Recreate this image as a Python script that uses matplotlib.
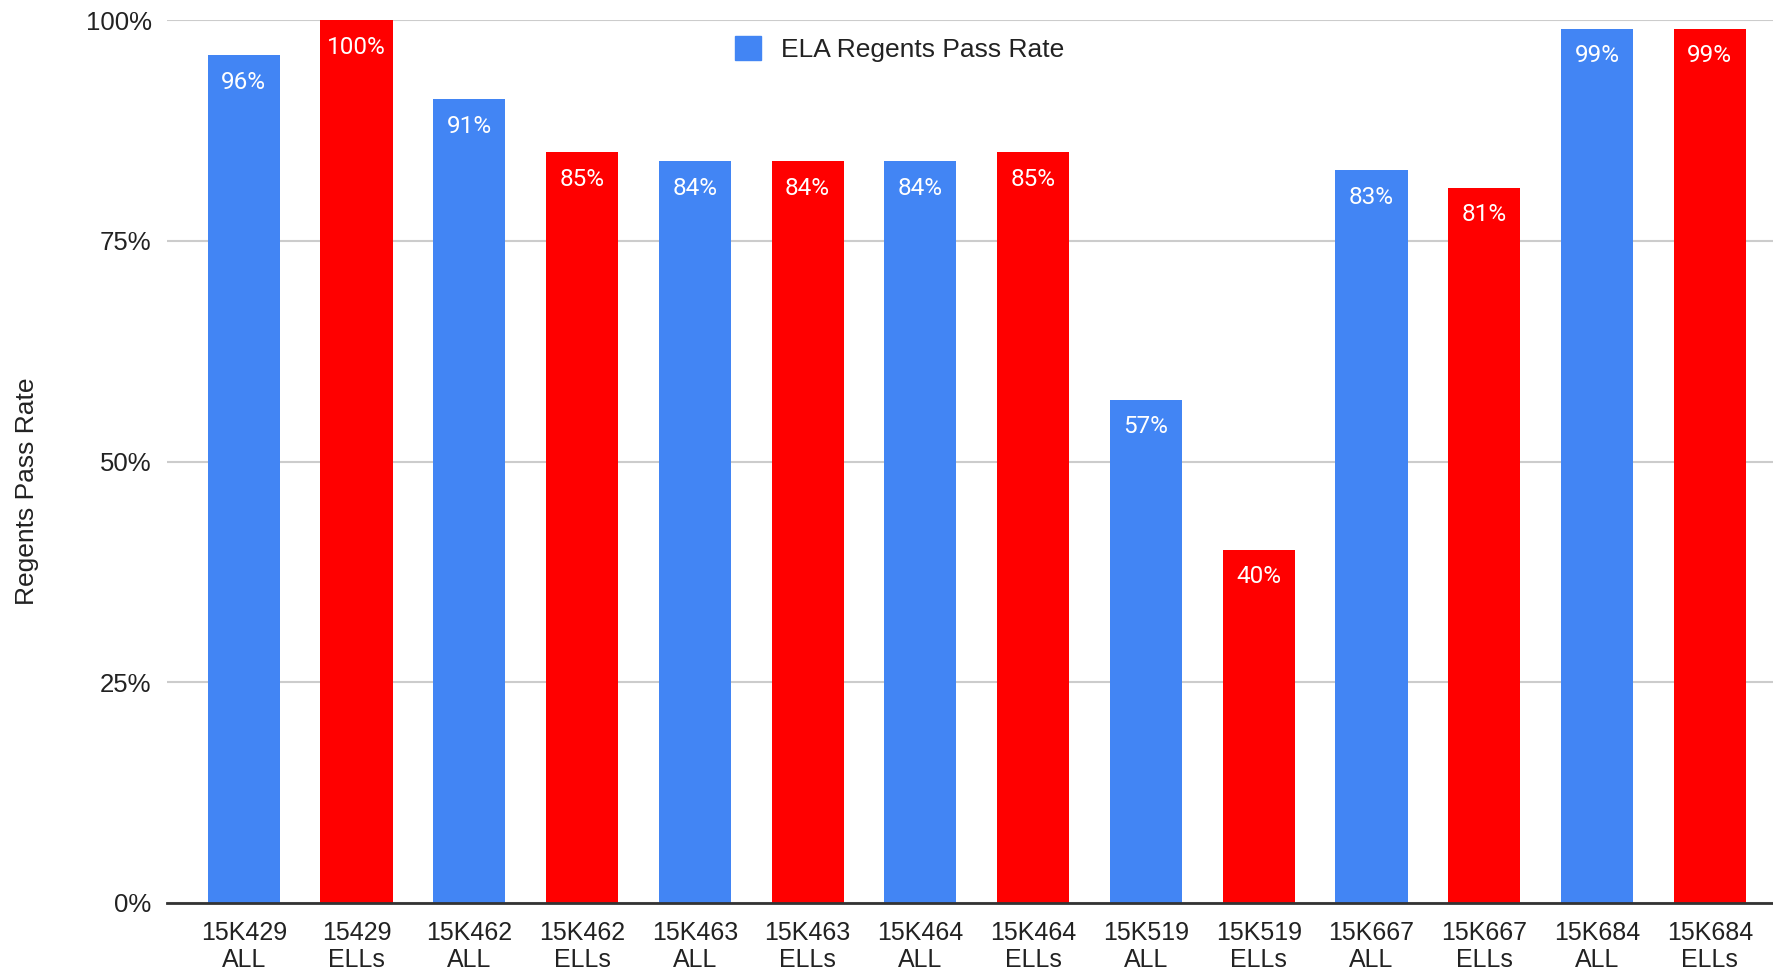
import numpy as np
from matplotlib import pyplot as plt
from matplotlib.patches import Patch

# chart data
schools = ['15K429\nALL', '15429\nELLs', '15K462\nALL', '15K462\nELLs',
           '15K463\nALL', '15K463\nELLs', '15K464\nALL', '15K464\nELLs',
           '15K519\nALL', '15K519\nELLs', '15K667\nALL', '15K667\nELLs',
           '15K684\nALL', '15K684\nELLs']
pass_rate = [96, 100, 91, 85, 84, 84, 84, 85, 57, 40, 83, 81, 99, 99]
groups = ['ALL', 'ELLs'] * 7
y_ticks = [0, 25, 50, 75, 100]

blue = '#4285F4'
red = '#FF0000'
colors = [blue if g == 'ALL' else red for g in groups]

plt.rcParams['font.family'] = ['Liberation Sans', 'DejaVu Sans']

fig = plt.figure(figsize=(17.73, 9.77), dpi=100)
ax = fig.add_axes([167/1773, 1-903/977, 1-167/1773, (903-20)/977])

x = np.arange(len(schools))
bars = ax.bar(x, pass_rate, width=0.64, color=colors, zorder=3)

for xi, v in zip(x, pass_rate):
    ax.annotate('%d%%' % v, (xi, v), xytext=(0, -19.5), textcoords='offset points',
                ha='center', va='center', color='white', fontsize=17.5,
                family=['Roboto', 'DejaVu Sans'], zorder=4)

ax.set_ylim(0, 100)
ax.set_xlim(-0.68, 13.56)
ax.set_yticks(y_ticks)
ax.set_yticklabels(['%d%%' % t for t in y_ticks], fontsize=18.5, color='#222222')
ax.set_xticks(x)
ax.set_xticklabels(schools, fontsize=18, color='#222222', linespacing=1.15,
                   family=['Liberation Sans Narrow', 'Liberation Sans'])
ax.tick_params(axis='both', length=0)
ax.tick_params(axis='y', pad=11)
ax.tick_params(axis='x', pad=13)

ax.grid(axis='y', color='#cccccc', linewidth=1.5, zorder=0)
ax.set_axisbelow(True)
for s in ['top', 'right', 'left']:
    ax.spines[s].set_visible(False)
ax.spines['bottom'].set_color('#333333')
ax.spines['bottom'].set_linewidth(2)
ax.spines['bottom'].set_zorder(5)

fig.text(27/1773, 1-491/977, 'Regents Pass Rate', rotation=90, ha='center',
         va='center', fontsize=19, color='#222222')

leg = ax.legend(handles=[Patch(color=blue, label='ELA Regents Pass Rate')],
                loc='center', bbox_to_anchor=(0.456, 0.967), frameon=False,
                fontsize=19, handlelength=1.0, handleheight=1.0, handletextpad=0.73)
for t in leg.get_texts():
    t.set_color('#222222')

fig.savefig('out.png', dpi=100)
